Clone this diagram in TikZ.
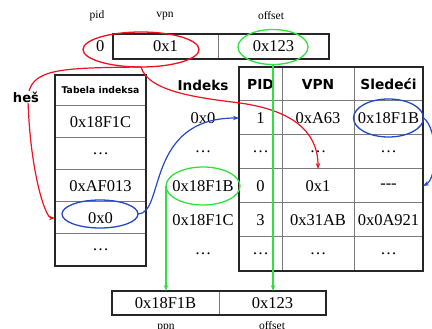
\documentclass[tikz,border=0pt]{standalone}
\usepackage{fontspec}
\setmainfont{Liberation Serif}
\setsansfont{DejaVu Sans}
\usepackage{tikz}
\usetikzlibrary{arrows.meta, positioning, shapes.geometric}
\definecolor{hashred}{HTML}{F01020}
\definecolor{ppngreen}{HTML}{30E040}
\definecolor{chainblue}{HTML}{2448C8}
\definecolor{gridgray}{HTML}{7A7A7A}

\begin{document}
\begin{tikzpicture}[
  x=1pt, y=-1pt,
  val/.style={font=\fontsize{16.5}{19}\selectfont},
  lbl/.style={font=\fontsize{11.5}{13}\selectfont},
  head/.style={font=\sffamily\bfseries\fontsize{13.8}{16}\selectfont},
  tabhead/.style={font=\sffamily\bfseries\fontsize{9.3}{11}\selectfont},
  cell/.style={draw=gridgray, line width=1pt, inner sep=0pt, outer sep=0pt, val},
  lcell/.style={cell, minimum width=91pt, minimum height=32pt},
  pidc/.style={cell, minimum width=43pt, minimum height=34pt},
  vpnc/.style={cell, minimum width=72pt, minimum height=34pt},
  nextc/.style={cell, minimum width=69pt, minimum height=34pt},
  frame/.style={draw=black!85, line width=1.6pt},
  ring/.style={ellipse, draw, line width=1.3pt, inner sep=0pt, outer sep=0pt},
  redarr/.style={-{Stealth[length=6pt, width=4.5pt]}, line width=1.2pt, color=hashred},
  greenarr/.style={-{Stealth[length=6pt, width=4.5pt]}, line width=1.2pt, color=ppngreen},
  bluearr/.style={-{Stealth[length=6pt, width=4.5pt]}, line width=1.2pt, color=chainblue}
]
  \useasboundingbox (0,0) rectangle (432,329);

  % virtuelna adresa
  \node[lbl] (pidlbl) at (97,16) {pid};
  \node[lbl] (vpnlbl) at (165,16) {vpn};
  \node[lbl] (offlbl) at (271,16) {offset};
  \node[cell, minimum width=105pt, minimum height=25pt] (tvpn) at (165.5,46.5) {0x1};
  \node[cell, minimum width=111pt, minimum height=25pt, right=0pt of tvpn] (toff) {0x123};
  \node[val, left=5pt of tvpn] (tpid) {0};
  \draw[frame] (tvpn.north west) rectangle (toff.south east);

  % tabela indeksa
  \node[cell, tabhead, minimum width=91pt, minimum height=31pt] (lhead) at (100.5,90.5) {Tabela indeksa};
  \node[lcell, below=0pt of lhead] (lrow1) {0x18F1C};
  \node[lcell, below=0pt of lrow1] (lrow2) {\dots};
  \node[lcell, below=0pt of lrow2] (lrow3) {0xAF013};
  \node[lcell, below=0pt of lrow3] (lrow4) {0x0};
  \node[lcell, below=0pt of lrow4] (lrow5) {\dots};
  \draw[frame] (lhead.north west) rectangle (lrow5.south east);

  % invertovana tabela
  \node[pidc, head] (rpid0) at (260.5,84) {PID};
  \node[vpnc, head, right=0pt of rpid0] (rvpn0) {VPN};
  \node[nextc, head, right=0pt of rvpn0] (rnext0) {Sledeći};
  \node[pidc, below=0pt of rpid0] (rpid1) {1};
  \node[vpnc, right=0pt of rpid1] (rvpn1) {0xA63};
  \node[nextc, right=0pt of rvpn1] (rnext1) {0x18F1B};
  \node[pidc, below=0pt of rpid1] (rpid2) {\dots};
  \node[vpnc, right=0pt of rpid2] (rvpn2) {\dots};
  \node[nextc, right=0pt of rvpn2] (rnext2) {\dots};
  \node[pidc, below=0pt of rpid2] (rpid3) {0};
  \node[vpnc, right=0pt of rpid3] (rvpn3) {0x1};
  \node[nextc, right=0pt of rvpn3] (rnext3) {{-}{-}{-}};
  \node[pidc, below=0pt of rpid3] (rpid4) {3};
  \node[vpnc, right=0pt of rpid4] (rvpn4) {0x31AB};
  \node[nextc, right=0pt of rvpn4] (rnext4) {0x0A921};
  \node[pidc, below=0pt of rpid4] (rpid5) {\dots};
  \node[vpnc, right=0pt of rpid5] (rvpn5) {\dots};
  \node[nextc, right=0pt of rvpn5] (rnext5) {\dots};
  \draw[frame] (rpid0.north west) rectangle (rnext5.south east);

  % indeksi
  \node[head, font=\sffamily\bfseries\fontsize{13.6}{16}\selectfont] (idxhead) at (203,85) {Indeks};
  \node[val] (idx1) at (idxhead |- rpid1) {0x0};
  \node[val] (idx2) at (idxhead |- rpid2) {\dots};
  \node[val] (idx3) at (idxhead |- rpid3) {0x18F1B};
  \node[val] (idx4) at (idxhead |- rpid4) {0x18F1C};
  \node[val] (idx5) at (idxhead |- rpid5) {\dots};

  % fizicka adresa
  \node[cell, minimum width=107pt, minimum height=24pt] (bppn) at (165.5,303) {0x18F1B};
  \node[cell, minimum width=107pt, minimum height=24pt, right=0pt of bppn] (boff) {0x123};
  \draw[frame] (bppn.north west) rectangle (boff.south east);
  \node[lbl, anchor=base] (ppnlbl) at (166,329.5) {ppn};
  \node[lbl, anchor=base] (boffl) at (272,329.5) {offset};

  % elipse
  \node[ring, draw=hashred, minimum width=116pt, minimum height=35pt] (vpnring) at (141,49.5) {};
  \node[ring, draw=ppngreen, minimum width=70pt, minimum height=35pt] (offring) at (273,47) {};
  \node[ring, draw=ppngreen, minimum width=74pt, minimum height=38pt] (ppnring) at (idx3) {};
  \node[ring, draw=chainblue, minimum width=76pt, minimum height=28pt] (lring) at (100,214) {};
  \node[ring, draw=chainblue, minimum width=70pt, minimum height=38pt] (nextring) at (rnext1) {};

  % strelice
  \draw[redarr] (vpnring.south) .. controls (60,68) and (28,68) .. (28,100)
    .. controls (30,170) and (45,218) .. (lrow4.west);
  \node[head, fill=white, inner sep=1pt, font=\sffamily\bfseries\fontsize{13.1}{15}\selectfont] (hash) at (26,97) {heš};
  \draw[redarr] (vpnring.south) .. controls (148,92) and (200,98) .. (240,103)
    .. controls (290,110) and (318,130) .. (rvpn3.north);
  \draw[greenarr] (offring.south) -- (offring.south |- boff.north);
  \draw[greenarr] (ppnring.west) -- (ppnring.west |- bppn.north);
  \draw[bluearr] (lring.east) .. controls (165,214) and (145,118) .. (rpid1.west);
  \draw[bluearr] (nextring.east) .. controls (438,128) and (438,178) .. (rnext3.east);
\end{tikzpicture}
\end{document}
